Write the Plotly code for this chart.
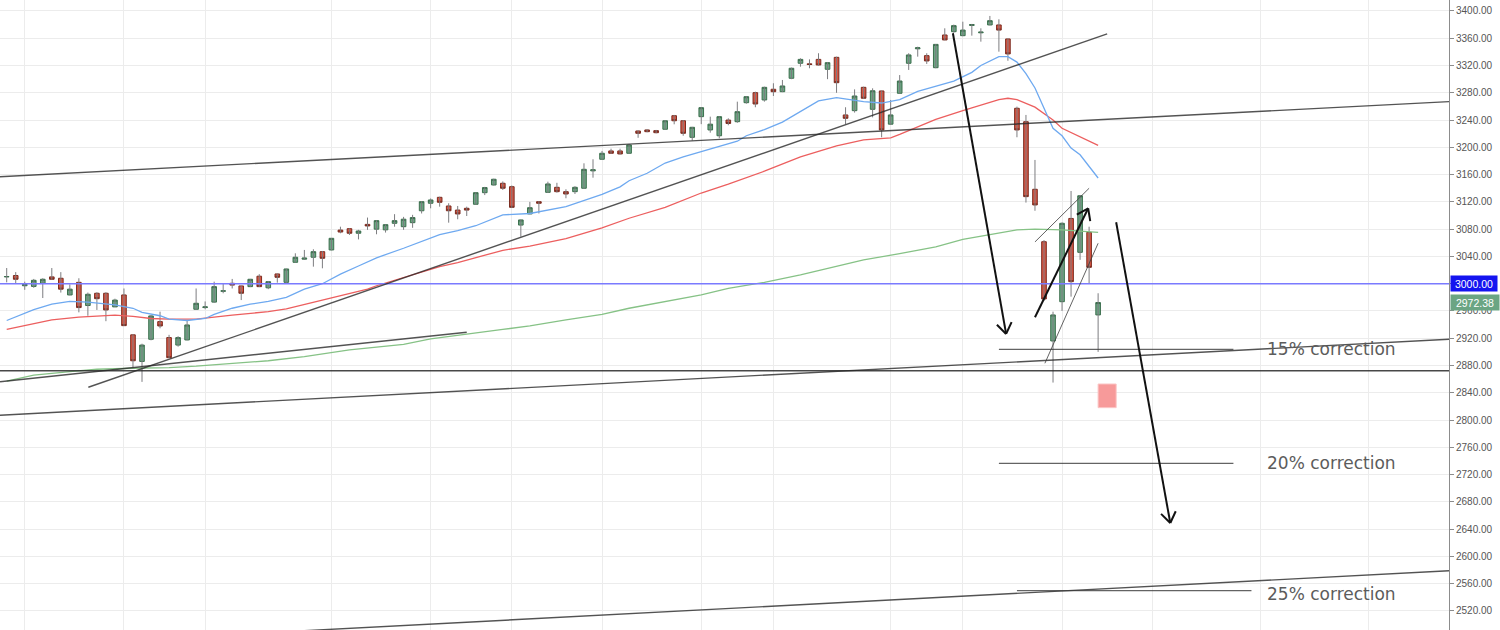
import math
import plotly.graph_objects as go

# ---------------- data: daily candles (bar index 0..121) ----------------
bar_index = list(range(122))
open_ = [3010, 3012, 2997, 2996, 3000.5, 3010, 3008, 2983.5, 3002, 2968,
         2986, 2986, 2966, 2983.5, 2925, 2886, 2918.5, 2944.4, 2921, 2910,
         2917.5, 2962.5, 2965, 2973, 2989, 3000.6, 2996.7, 2995.7, 3011, 2994,
         3014.3, 3002, 3031.4, 3036, 3038.8, 3047, 3049.5, 3078.7, 3080.7, 3074,
         3087, 3080, 3079, 3088.6, 3083.6, 3089.5, 3107, 3118, 3126.7, 3114,
         3108, 3110.6, 3116.5, 3133.5, 3144.8, 3147.3, 3142.3, 3086, 3102.3, 3120.3,
         3134, 3141.4, 3135, 3135, 3140, 3165.5, 3182.5, 3194.7, 3194.7, 3191.3,
         3224, 3225.5, 3224.5, 3226.5, 3246.4, 3239, 3214.7, 3245, 3225.5, 3217,
         3240, 3237.6, 3265.5, 3280.2, 3269.5, 3285.2, 3281.6, 3301.3, 3323.3, 3322.5,
         3329, 3314.5, 3332, 3247.5, 3253.8, 3288, 3255.8, 3282.7, 3234, 3279.3,
         3323.3, 3344.5, 3334.5, 3316.8, 3364.8, 3369.6, 3363.8, 3378.8, 3368, 3379.5,
         3379.5, 3359, 3257.3, 3237.6, 3138.5, 3061.6, 2916, 2973.6, 3095.7, 3046,
         3075.4, 2954.2]
high = [3023, 3017, 3003, 3007, 3008, 3023, 3017, 2999, 3008, 2987,
        2987.5, 2987.5, 2978, 2993, 2926, 2912, 2954, 2959, 2925, 2923,
        2946, 2993, 2974, 3003, 3000.6, 3007, 2997, 3007, 3014, 3004,
        3015, 3022, 3044.6, 3049.5, 3050.5, 3048, 3067, 3083.6, 3081, 3079,
        3097, 3093, 3087, 3102, 3098, 3101, 3121, 3125, 3127.6, 3118,
        3114, 3113, 3134, 3142, 3154, 3150, 3144, 3094, 3120, 3121,
        3149.6, 3148, 3138.5, 3143, 3176.6, 3182.5, 3194.7, 3198, 3198, 3205,
        3225, 3226.6, 3225.5, 3239.5, 3247.5, 3240, 3230, 3259, 3245, 3245.5,
        3242.6, 3267, 3275, 3281.6, 3289, 3294, 3298.8, 3317, 3330.6, 3329,
        3338, 3325, 3333, 3258.8, 3285, 3289, 3286.6, 3283, 3269.5, 3306,
        3338, 3347.6, 3338, 3351.5, 3374.6, 3380, 3384.3, 3381, 3374.6, 3392.7,
        3387.8, 3359.5, 3259.7, 3247.5, 3181.5, 3064, 2959, 3090, 3136, 3130,
        3083.6, 2986]
low = [3002, 3001, 2991, 2994, 2979, 3006, 2987, 2983, 2958, 2953,
       2961.5, 2945, 2966, 2938, 2876, 2856, 2917, 2934.6, 2891, 2907.6,
       2917, 2962, 2962.5, 2972, 2986, 2993, 2976, 2995, 2995, 2992,
       3001.5, 3001, 3031, 3034.8, 3025, 3022.6, 3049, 3074, 3071.5, 3065,
       3079, 3072.5, 3075, 3083.6, 3079, 3082, 3103, 3110.6, 3113, 3089.5,
       3094.5, 3099.3, 3116, 3130, 3144, 3137.5, 3111, 3069, 3102, 3103,
       3133, 3133.5, 3125.3, 3131.6, 3139, 3155.5, 3182, 3190.7, 3189.5, 3191,
       3214, 3222, 3220.5, 3226, 3233.8, 3217, 3210, 3234, 3221.5, 3213.3,
       3232.4, 3236, 3264, 3258.8, 3267, 3275.3, 3281, 3300, 3318.3, 3316,
       3320, 3300, 3280, 3234, 3251, 3271, 3244, 3214.8, 3233, 3279,
       3313.5, 3333, 3322.3, 3316, 3357, 3368, 3363, 3363.8, 3355, 3379,
       3340.3, 3327, 3214.8, 3119, 3107, 2975, 2855, 2960, 2981, 3035,
       3000.6, 2900]
close = [3010.5, 3006.5, 2999, 3005, 3006.5, 3006.5, 2992, 2992, 2965, 2984.5,
         2978, 2961.5, 2976, 2938.5, 2887, 2910, 2952.7, 2938, 2891.5, 2921,
         2939.5, 2971.3, 2966, 2995.7, 2989.5, 2998, 2986, 3006.5, 2995.7, 3003,
         3009.4, 3021.6, 3038.8, 3037.5, 3047, 3037.3, 3066.6, 3075.8, 3074, 3077.3,
         3084.7, 3092.5, 3086.6, 3092.5, 3094.6, 3097, 3120.3, 3122.8, 3119.4, 3107,
         3102.3, 3108, 3133.5, 3141, 3153.2, 3140, 3112, 3093.5, 3111.5, 3118,
         3146.3, 3135, 3131.6, 3141.4, 3167.8, 3167, 3191.3, 3191.3, 3190.3, 3203.5,
         3220.6, 3223, 3221.5, 3239, 3239, 3220.6, 3229.4, 3258.2, 3234, 3245,
         3235, 3252.3, 3274.3, 3263.6, 3288, 3281.6, 3290, 3316, 3329, 3321.5,
         3320.8, 3324.2, 3294.8, 3242.6, 3275.3, 3272, 3283, 3225.5, 3247.5, 3297.3,
         3335.5, 3346, 3326.7, 3351, 3357.5, 3378.5, 3372, 3380, 3369, 3385.8,
         3372, 3337, 3225.5, 3127.7, 3115.5, 2977.6, 2954.2, 3088.6, 3003, 3129,
         3024, 2972.38]

# ---------------- moving averages ----------------
ma_fast_x = [0, 3, 5, 7, 9, 10, 12, 14, 15, 17, 18, 20, 22, 23, 25, 27, 29, 31, 33, 35,
             37, 39, 41, 44, 46, 48, 50, 52, 55, 58, 62, 64, 66, 68, 69, 71, 73, 75, 77, 79,
             81, 82, 84, 86, 88, 90, 92, 94, 95, 97, 99, 101, 103, 105, 107, 108, 110, 111,
             112, 113, 114, 115, 116, 117, 118, 119, 120, 121]
ma_fast_y = [2946, 2962, 2970, 2974, 2973, 2972, 2969, 2964, 2958, 2953, 2948, 2946, 2949, 2955,
             2964, 2970, 2974, 2980, 2992, 3000, 3014, 3026, 3038, 3052, 3062, 3072, 3078, 3085,
             3101, 3103, 3113, 3122, 3131, 3142, 3151, 3162, 3177, 3186, 3194, 3202, 3209, 3217,
             3226, 3237, 3252, 3268, 3273, 3269, 3267, 3265, 3270, 3282, 3289, 3297, 3310, 3320,
             3333, 3333, 3325, 3308, 3287, 3258, 3228, 3217, 3199, 3189, 3172, 3155]

ma_mid_x = [0, 3, 5, 8, 12, 14, 16, 18, 21, 25, 29, 31, 34, 36, 38, 40, 41, 44, 46, 48,
            50, 52, 55, 58, 62, 66, 69, 73, 77, 80, 84, 88, 92, 95, 98, 99, 103, 106, 110,
            111, 112, 114, 116, 117, 118, 119, 121]
ma_mid_y = [2933, 2941, 2947, 2951, 2954, 2952, 2949, 2948, 2948, 2954, 2959, 2963, 2973, 2979,
            2986, 2992, 2997, 3009, 3018, 3025, 3031, 3038, 3049, 3055, 3066, 3082, 3096, 3112,
            3133, 3146, 3165, 3186, 3202, 3211, 3214, 3219, 3241, 3254, 3270, 3272, 3270, 3259,
            3240, 3228, 3222, 3216, 3203]

ma_slow_x = [0, 3, 7, 10, 14, 18, 21, 25, 29, 33, 38, 44, 47, 55, 58, 62, 66, 69, 73, 77,
             80, 84, 88, 92, 95, 99, 103, 106, 110, 112, 114, 117, 121]
ma_slow_y = [2857, 2866, 2871, 2874.5, 2876, 2877, 2879, 2883, 2887, 2893, 2903, 2911, 2919,
             2933, 2938, 2947, 2955, 2964, 2974, 2983.5, 2993, 3002, 3013, 3025, 3035, 3044,
             3054, 3065, 3075, 3079, 3080, 3079, 3075.4]

# ---------------- axes ----------------
y_ticks = list(range(2520, 3401, 40))
x_grid_ticks = [2, 13, 22, 36, 47, 56, 66, 77, 85, 98, 106, 117, 127, 139, 151]
level_3000 = 3000
last_price = 2972.38

# ---------------- chart drawings (bar index, price) ----------------
trend_lines = [
    (-1, 3156.8, 160, 3267.1),     # upper long line
    (9.05, 2848.1, 122.0, 3366.3),  # rising support
    (-0.74, 2856.3, 51.0, 2928.8),  # short lower line
    (-1, 2806.9, 160, 2918.6),      # long bottom line
    (-1, 2467.5, 160, 2579.1),      # lowest line
]
horizontal_level = 2872.4
channel_lines = [
    (114.0, 3061.3, 120.0, 3140.0),
    (115.1, 2883.3, 121.0, 3059.3),
]
arrows = [  # tail -> tip
    (104.9, 3367.3, 110.8, 2926.3),
    (114.0, 2950.8, 119.9, 3110.6),
    (123.0, 3090.1, 129.0, 2649.0),
]
correction_levels = [
    ("15% correction", 110.0, 136.0, 2903.8),
    ("20% correction", 110.0, 136.0, 2736.6),
    ("25% correction", 112.0, 138.0, 2549.8),
]
correction_text_x = 139.5
correction_text_y = [2903.8, 2736.6, 2545.0]
red_box = (121.0, 2818.2, 123.0, 2852.9)

X_RANGE = [-0.743, 159.9]
Y_RANGE = [2492.1, 3416.1]
PLOT_W, PLOT_H = 1449, 630
SX = PLOT_W / (X_RANGE[1] - X_RANGE[0])
SY = PLOT_H / (Y_RANGE[1] - Y_RANGE[0])

fig = go.Figure()

# wicks (grey)
wx, wy = [], []
for i, h, l in zip(bar_index, high, low):
    wx += [i, i, None]
    wy += [l, h, None]
fig.add_trace(go.Scatter(x=wx, y=wy, mode="lines", line=dict(color="#7d7d80", width=1),
                         hoverinfo="skip", showlegend=False))

body_hi = [max(o, c) for o, c in zip(open_, close)]
body_lo = [min(o, c) for o, c in zip(open_, close)]
fig.add_trace(go.Candlestick(
    x=bar_index, open=open_, high=body_hi, low=body_lo, close=close,
    increasing=dict(fillcolor="#6ba583", line=dict(color="#3b6e4d", width=1)),
    decreasing=dict(fillcolor="#d75442", line=dict(color="#7a2c20", width=1)),
    whiskerwidth=0, showlegend=False))

fig.add_trace(go.Scatter(x=ma_slow_x, y=ma_slow_y, mode="lines",
                         line=dict(color="#86c286", width=1.3), showlegend=False))
fig.add_trace(go.Scatter(x=ma_mid_x, y=ma_mid_y, mode="lines",
                         line=dict(color="#ec5f5f", width=1.3), showlegend=False))
fig.add_trace(go.Scatter(x=ma_fast_x, y=ma_fast_y, mode="lines",
                         line=dict(color="#6ea9f0", width=1.3), showlegend=False))

shapes = []
# 3000 level
shapes.append(dict(type="line", xref="paper", yref="y", x0=0, x1=1, y0=level_3000, y1=level_3000,
                   line=dict(color="#7a7aff", width=1.6)))
for x0, y0, x1, y1 in trend_lines:
    shapes.append(dict(type="line", xref="x", yref="y", x0=x0, y0=y0, x1=x1, y1=y1,
                       line=dict(color="rgba(40,40,40,0.8)", width=1.4)))
shapes.append(dict(type="line", xref="paper", yref="y", x0=0, x1=1,
                   y0=horizontal_level, y1=horizontal_level,
                   line=dict(color="rgba(40,40,40,0.85)", width=1.5)))
for x0, y0, x1, y1 in channel_lines:
    shapes.append(dict(type="line", xref="x", yref="y", x0=x0, y0=y0, x1=x1, y1=y1,
                       line=dict(color="rgba(60,60,60,0.8)", width=1)))
for label, x0, x1, yv in correction_levels:
    shapes.append(dict(type="line", xref="x", yref="y", x0=x0, y0=yv, x1=x1, y1=yv,
                       line=dict(color="rgba(60,60,60,0.8)", width=1.2)))
shapes.append(dict(type="rect", xref="x", yref="y", x0=red_box[0], y0=red_box[1],
                   x1=red_box[2], y1=red_box[3], fillcolor="#f79a9a",
                   line=dict(color="#fbc4c4", width=1)))

# arrows with open chevron heads
for tx0, ty0, tx1, ty1 in arrows:
    shapes.append(dict(type="line", xref="x", yref="y", x0=tx0, y0=ty0, x1=tx1, y1=ty1,
                       line=dict(color="#111111", width=2)))
    dx = (tx0 - tx1) * SX
    dy = (ty0 - ty1) * SY
    L = math.hypot(dx, dy)
    ux, uy = dx / L, dy / L
    for ang in (35, -35):
        a = math.radians(ang)
        rx = ux * math.cos(a) - uy * math.sin(a)
        ry = ux * math.sin(a) + uy * math.cos(a)
        shapes.append(dict(type="line", xref="x", yref="y", x0=tx1, y0=ty1,
                           x1=tx1 + rx * 13 / SX, y1=ty1 + ry * 13 / SY,
                           line=dict(color="#111111", width=2)))

annotations = []
for (label, _, _, _), ty in zip(correction_levels, correction_text_y):
    annotations.append(dict(x=correction_text_x, y=ty, xref="x", yref="y", text=label,
                            showarrow=False, xanchor="left", yanchor="middle",
                            font=dict(family="DejaVu Sans", size=17, color="#5c5c5c")))
annotations.append(dict(x=1, y=level_3000, xref="paper", yref="y", text="3000.00",
                        showarrow=False, xanchor="left", yanchor="middle", xshift=1,
                        bgcolor="#1414f0", width=46, height=15, borderpad=0,
                        font=dict(family="Liberation Sans", size=10.5, color="white")))
annotations.append(dict(x=1, y=last_price, xref="paper", yref="y", text="2972.38",
                        showarrow=False, xanchor="left", yanchor="middle", xshift=1,
                        bgcolor="#6ba583", width=48, height=15, borderpad=0,
                        font=dict(family="Liberation Sans", size=10.5, color="white")))

fig.update_layout(
    width=1500, height=630,
    margin=dict(l=0, r=51, t=0, b=0),
    paper_bgcolor="white", plot_bgcolor="white",
    showlegend=False, boxgap=0.27,
    shapes=shapes, annotations=annotations,
    xaxis=dict(range=X_RANGE, rangeslider=dict(visible=False), showticklabels=False,
               tickmode="array", tickvals=x_grid_ticks, showgrid=True,
               gridcolor="#ececec", gridwidth=1, zeroline=False, ticks="", fixedrange=True),
    yaxis=dict(range=Y_RANGE, side="right", tickmode="array", tickvals=y_ticks,
               ticktext=[f"{v:.2f}" for v in y_ticks], showgrid=True, gridcolor="#ececec",
               gridwidth=1, zeroline=False, showline=True, linecolor="#8c8c8c", linewidth=1,
               ticks="outside", ticklen=4, tickcolor="#8c8c8c",
               tickfont=dict(family="Liberation Sans", size=10, color="#555555")),
)

fig.write_html("out.html", config={"displayModeBar": False},
               post_script="document.body.style.margin='0';")
